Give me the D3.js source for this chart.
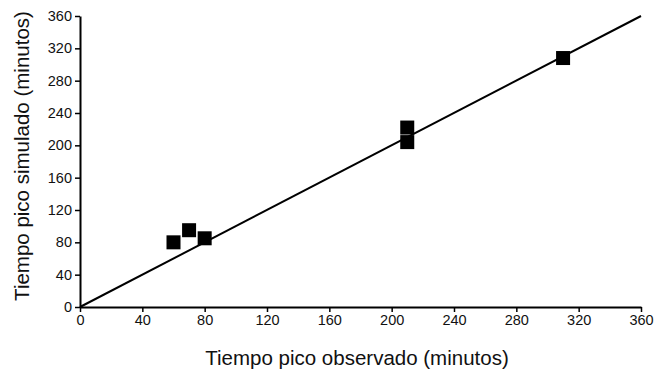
<!DOCTYPE html>
<html>
<head>
<meta charset="utf-8">
<script src="https://cdn.jsdelivr.net/npm/d3@7"></script>
<style>
  body { margin: 0; background: #fff; }
  text { font-family: "Liberation Sans", Arial, sans-serif; fill: #111; }
</style>
</head>
<body>
<div id="chart"></div>
<script>
// observed vs simulated peak time (minutes)
const observed = [60, 70, 80, 210, 210, 310];
const simulated = [80, 95, 85, 222, 204, 308];
const xTicks = [0, 40, 80, 120, 160, 200, 240, 280, 320, 360];
const yTicks = [0, 40, 80, 120, 160, 200, 240, 280, 320, 360];
const lineEnds = [0, 360];

const width = 657, height = 372;
const margin = { left: 80, right: 16, top: 16, bottom: 65 };

let svg = d3.select("#chart")
    .append("svg")
    .attr("width", width)
    .attr("height", height);

const x = d3.scaleLinear().domain([0, 360]).range([margin.left, width - margin.right]);
const y = d3.scaleLinear().domain([0, 360]).range([height - margin.bottom, margin.top]);

//1:1 line
svg.append("line")
    .attr("x1", x(lineEnds[0]))
    .attr("y1", y(lineEnds[0]))
    .attr("x2", x(lineEnds[1]))
    .attr("y2", y(lineEnds[1]))
    .attr("stroke", "#000")
    .attr("stroke-width", 2);

//axes
let xAxis = svg.append("g")
    .attr("transform", `translate(0,${y(0)})`)
    .call(d3.axisBottom(x).tickValues(xTicks).tickSize(5).tickPadding(3).tickSizeOuter(0));
let yAxis = svg.append("g")
    .attr("transform", `translate(${x(0)},0)`)
    .call(d3.axisLeft(y).tickValues(yTicks).tickSize(5).tickPadding(3).tickSizeOuter(0));

[xAxis, yAxis].forEach(a => {
    a.select(".domain").attr("stroke", "#000").attr("stroke-width", 2);
    a.selectAll(".tick line").attr("stroke", "#000").attr("stroke-width", 1.5);
    a.selectAll(".tick text").style("font-size", "14.5px").attr("fill", "#111");
});

//points
const sq = 14;
svg.selectAll("rect.pt")
    .data(observed.map((d, i) => ({ obs: d, sim: simulated[i] })))
    .enter()
    .append("rect")
    .attr("class", "pt")
    .attr("x", d => x(d.obs) - sq / 2)
    .attr("y", d => y(d.sim) - sq / 2)
    .attr("width", sq)
    .attr("height", sq)
    .attr("fill", "#000");

//axis titles
svg.append("text")
    .attr("x", 357)
    .attr("y", 365)
    .attr("text-anchor", "middle")
    .style("font-size", "20.5px")
    .text("Tiempo pico observado (minutos)");

svg.append("text")
    .attr("transform", "translate(29,156) rotate(-90)")
    .attr("text-anchor", "middle")
    .style("font-size", "20.5px")
    .text("Tiempo pico simulado (minutos)");
</script>
</body>
</html>
